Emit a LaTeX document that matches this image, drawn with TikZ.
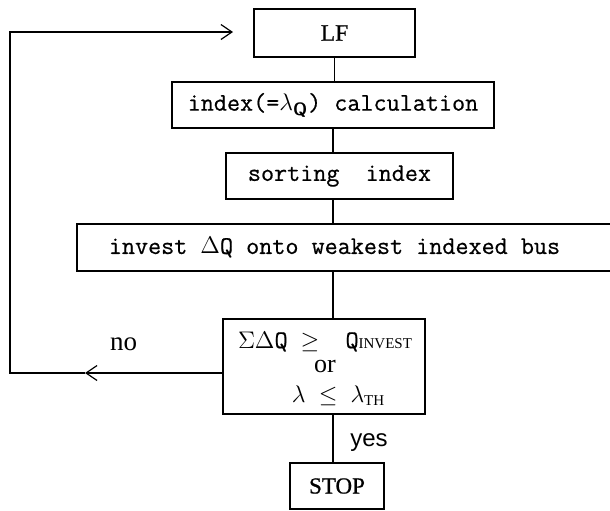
\documentclass[tikz,border=0pt]{standalone}
\usepackage{amsmath}
\usepackage{fontspec}
\newfontfamily\serifrm{Liberation Serif}
\newfontfamily\serifdk{Liberation Serif}[FakeBold=0.8]
\newfontfamily\sansrm{Liberation Sans}
\newfontfamily\boxmono{Latin Modern Mono}[FakeBold=0.6]
\usetikzlibrary{arrows.meta}

\begin{document}
\begin{tikzpicture}[x=0.5pt, y=-0.5pt, line width=0.6pt,
        flowbox/.style={draw, rectangle, inner sep=0pt, font=\fontsize{12.7}{10}\selectfont\boxmono},
        back/.style={-{Straight Barb[length=5.5pt, width=7.5pt]}}]
        \useasboundingbox (0,0) rectangle (610,510);
        \clip (0,0) rectangle (610,510);

        \node[flowbox, minimum width=80.5pt, minimum height=24pt, font=\fontsize{11.8}{13}\selectfont\serifdk] (lf) at (334.5,33) {LF};
        \node[flowbox, minimum width=161pt, minimum height=23pt] (idx) at (333,105) {index(=$\lambda_{\textsf{\textbf{Q}}}$) calculation};
        \node[flowbox, minimum width=113.5pt, minimum height=23pt] (sort) at (339.5,176) {sorting\ \ index};
        \node[flowbox, minimum width=268.5pt, minimum height=23.5pt] (inv) at (345.5,247.5) {};
        \node[font=\fontsize{12.7}{10}\selectfont\boxmono] (invtext) at (334.5,247.5) {invest $\Delta$Q onto weakest indexed bus};
        \node[flowbox, minimum width=101pt, minimum height=47.5pt] (dec) at (324,366.5) {};
        \node[align=center, font=\fontsize{12.7}{10}\selectfont\boxmono] (dectext) at (325,368.5)
            {$\Sigma\Delta$Q\ $\geq$\ \ Q{\fontsize{7.5}{8}\selectfont\serifrm INVEST}\\[2pt]
             {\fontsize{13}{10}\selectfont\serifrm or}\\[5pt]
             \ \ $\lambda$\ $\leq$\ $\lambda$\raisebox{-1.5pt}{\fontsize{7.5}{8}\selectfont\serifrm TH}};
        \node[flowbox, minimum width=47pt, minimum height=23pt, font=\fontsize{11.5}{13}\selectfont\serifdk] (stop) at (337,486) {STOP};

        \draw (lf.south) -- (lf.south |- idx.north);
        \draw (idx.south) -- (idx.south |- sort.north);
        \draw (idx.south |- sort.south) -- (idx.south |- inv.north);
        \draw (idx.south |- inv.south) -- (idx.south |- dec.north);
        \draw (idx.south |- dec.south) -- (idx.south |- stop.north);

        \coordinate (noend) at (85,373);
        \coordinate (lowleft) at (10,373);
        \coordinate (upleft) at (10,32);
        \coordinate (intip) at (233,32);
        \draw[back] (noend -| dec.west) -- (noend);
        \draw[back] (noend) -- (lowleft) -- (upleft) -- (intip);

        \node[font=\fontsize{13.5}{15}\selectfont\serifrm] (nolabel) at (123.5,344) {no};
        \node[font=\fontsize{12}{14}\selectfont\sansrm] (yeslabel) at (369,443) {yes};
    \end{tikzpicture}
\end{document}
